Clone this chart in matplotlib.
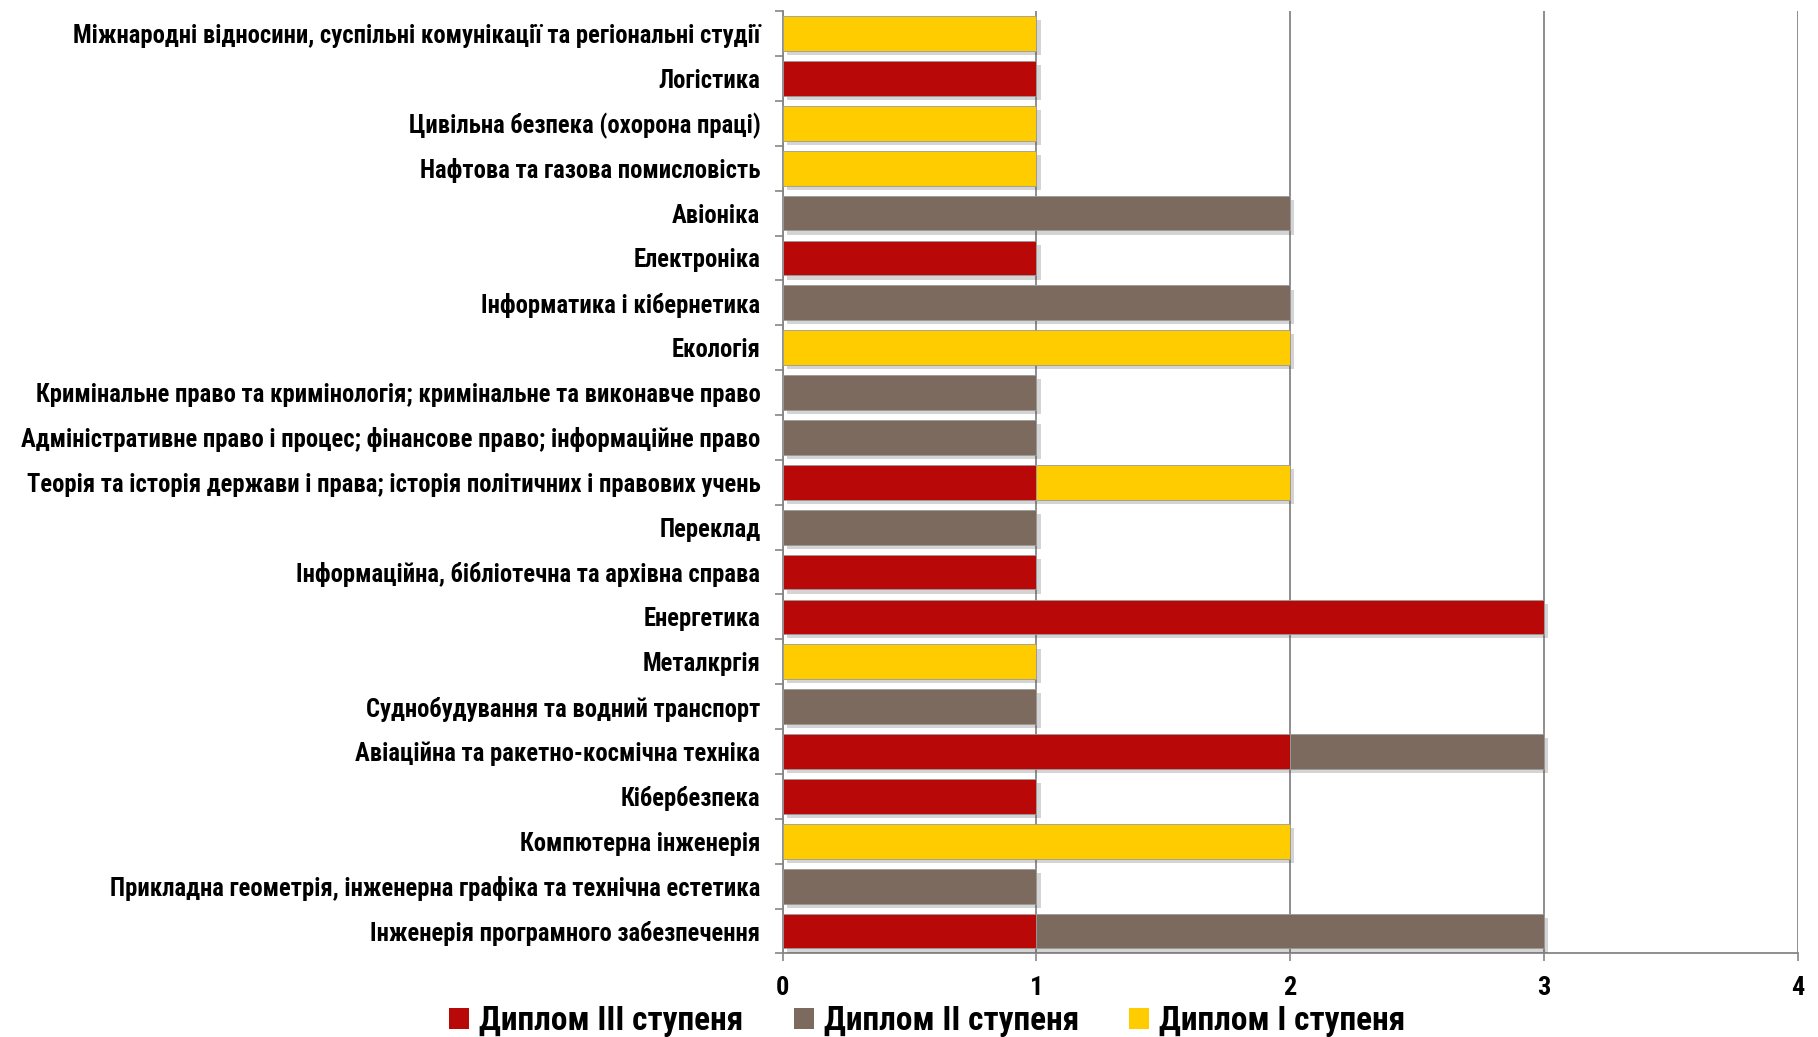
import matplotlib
matplotlib.use("Agg")
import matplotlib.pyplot as plt
import matplotlib.patheffects as pe
from matplotlib import font_manager
import numpy as np

# pick a narrow font (Calibri-like) if one is installed
narrow = 'DejaVu Sans'
for name in ['Liberation Sans Narrow', 'DejaVu Sans Condensed', 'Roboto Condensed', 'Open Sans Condensed']:
    try:
        font_manager.findfont(font_manager.FontProperties(family=name), fallback_to_default=False)
        narrow = name
        break
    except Exception:
        pass
plt.rcParams['font.family'] = [narrow, 'DejaVu Sans']
plt.rcParams['font.weight'] = 'bold'
plt.rcParams['font.stretch'] = 'condensed'

# categories, bottom to top
categories = [
    'Інженерія програмного забезпечення',
    'Прикладна геометрія, інженерна графіка та технічна естетика',
    'Компютерна інженерія',
    'Кібербезпека',
    'Авіаційна та ракетно-космічна техніка',
    'Суднобудування та водний транспорт',
    'Металкргія',
    'Енергетика',
    'Інформаційна, бібліотечна та архівна справа',
    'Переклад',
    'Теорія та історія держави і права; історія політичних і правових учень',
    'Адміністративне право і процес; фінансове право; інформаційне право',
    'Кримінальне право та кримінологія; кримінальне та виконавче право',
    'Екологія',
    'Інформатика і кібернетика',
    'Електроніка',
    'Авіоніка',
    'Нафтова та газова помисловість',
    'Цивільна безпека (охорона праці)',
    'Логістика',
    'Міжнародні відносини, суспільні комунікації та регіональні студії',
]
diploma_3 = [1, 0, 0, 1, 2, 0, 0, 3, 1, 0, 1, 0, 0, 0, 0, 1, 0, 0, 0, 1, 0]
diploma_2 = [2, 1, 0, 0, 1, 1, 0, 0, 0, 1, 0, 1, 1, 0, 2, 0, 2, 0, 0, 0, 0]
diploma_1 = [0, 0, 2, 0, 0, 0, 1, 0, 0, 0, 1, 0, 0, 2, 0, 0, 0, 1, 1, 0, 1]
series_names = ['Диплом III ступеня', 'Диплом II ступеня', 'Диплом I ступеня']
colors = ['#B80808', '#7B6A5D', '#FFCC00']

fig = plt.figure(figsize=(18.18, 10.37), dpi=100)
ax = fig.add_axes([0.4305, 0.0806, 0.5584, 0.9086])

y = np.arange(len(categories))
left = np.zeros(len(categories))
shadow = [pe.SimplePatchShadow(offset=(3, -3), shadow_rgbFace='#555555', alpha=0.25), pe.Normal()]
for vals, name, col in zip([diploma_3, diploma_2, diploma_1], series_names, colors):
    vals = np.array(vals, dtype=float)
    bars = ax.barh(y, vals, left=left, height=0.775, color=col, label=name,
                   edgecolor='#9a9a9a', linewidth=0.6, zorder=3)
    for b in bars:
        if b.get_width() > 0:
            b.set_path_effects(shadow)
    left += vals

ax.set_xlim(0, 4)
ax.set_ylim(-0.5, len(categories) - 0.5)
ax.set_xticks([0, 1, 2, 3, 4])
ax.set_yticks(y)
ax.set_yticklabels(categories, fontsize=17.7, fontweight='bold')
ax.set_yticks(np.arange(-0.5, len(categories), 1), minor=True)
ax.tick_params(axis='y', which='major', length=0, pad=16)
ax.tick_params(axis='y', which='minor', length=6, color='#868686', width=1.2)
ax.tick_params(axis='x', length=6, color='#868686', width=1.2, labelsize=19, pad=10)
for lab in ax.get_xticklabels():
    lab.set_fontweight('bold')

ax.grid(axis='x', color='#868686', linewidth=1.3, zorder=0)
ax.set_axisbelow(True)
for s in ['top', 'right']:
    ax.spines[s].set_visible(False)
for s in ['left', 'bottom']:
    ax.spines[s].set_color('#868686')
    ax.spines[s].set_linewidth(1.3)

leg = fig.legend(loc='center', bbox_to_anchor=(0.51, 0.0154), ncol=3, frameon=False,
                 prop={'size': 24, 'weight': 'bold'}, handlelength=0.6, handleheight=0.6,
                 handletextpad=0.3, columnspacing=1.5)
for h in leg.legend_handles:
    h.set_path_effects([])
    h.set_edgecolor('none')

fig.savefig('out.png', dpi=100)
